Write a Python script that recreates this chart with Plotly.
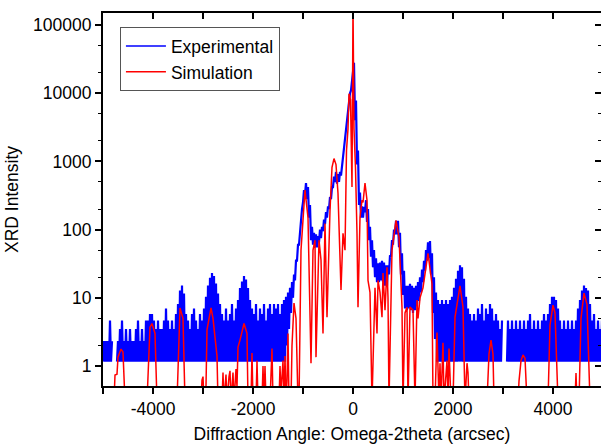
import plotly.graph_objects as go

# ---------------- data ----------------
# Experimental scan: sampled every 40 arcsec from -5000; each sample gives a low and a high count
exp_x = list(range(-5000, 5000, 40))
exp_hi = [
    2.32, 2.32, 2.32, 4.64, 2.32, None, None, 2.32, 3.48, 4.64,
    2.32, 3.48, 2.32, 3.48, 2.32, 2.32, 3.48, 4.64, 2.32, 3.48,
    2.32, 4.64, 4.64, 5.8, 5.8, 4.64, 3.48, 4.64, 3.48, 3.48,
    4.64, 6.96, 4.64, 3.48, 4.64, 3.48, 5.8, 8.12, 12.8, 15.1,
    11.6, 5.8, 4.64, 3.48, 5.8, 6.96, 4.64, 3.48, 5.8, 4.64,
    6.96, 10.4, 15.1, 19.7, 23.2, 20.9, 16.2, 11.6, 8.12, 5.8,
    4.64, 6.96, 4.64, 5.8, 8.12, 4.64, 6.96, 9.28, 13.9, 17.4,
    20.9, 18.6, 13.9, 9.28, 6.96, 5.8, 8.12, 4.64, 6.96, 5.8,
    8.12, 4.64, 6.96, 8.12, 5.8, 8.12, 6.96, 8.12, 5.8, 8.12,
    9.28, 10.4, 12, 14, 17, 22, 35, 60, 100, 200,
    380, 480, 420, 230, 110, 90, 85, 80, 100, 110,
    140, 180, 220, 300, 420, 600, 700, 650, 700, 850,
    1500, 2800, 5500, 10000, 15000, 28000, 7800, 1450, 350, 220,
    215, 270, 200, 110, 70, 50, 38, 32, 33, 35,
    33, 30, 30, 42, 70, 100, 135, 135, 90, 45,
    25, 15, 15, 16, 15, 14, 15, 17, 20, 26,
    35, 50, 65, 68, 45, 20, 12, 9.28, 8.12, 9.28,
    8.12, 9.28, 8.12, 9.28, 10.4, 14, 19, 25, 30, 28,
    19, 10.4, 6.96, 5.8, 4.64, 5.8, 4.64, 6.96, 5.8, 8.12,
    4.64, 6.96, 5.8, 8.12, 6.96, 4.64, 5.8, 4.64, 3.48, 4.64,
    None, None, 4.64, 3.48, 4.64, 3.48, 4.64, 3.48, 4.64, 3.48,
    4.64, 3.48, 4.64, 5.8, 3.48, 4.64, 3.48, 4.64, 3.48, 4.64,
    5.8, 4.64, 5.8, 8.12, 10.4, 10.4, 9.28, 6.96, 4.64, 3.48,
    4.64, 3.48, 4.64, 3.48, 4.64, 3.48, 4.64, 6.96, 9.28, 12.8,
    15.1, 13.9, 12.8, 8.12, 4.64, 5.8, 3.48, 4.64, 3.48, 4.64,
]
exp_lo = [
    1.16, 1.16, 1.16, 1.16, 1.16, None, None, 1.16, 1.16, 1.16,
    1.16, 1.16, 1.16, 1.16, 1.16, 1.16, 1.16, 1.16, 1.16, 1.16,
    1.16, 1.16, 1.16, 1.16, 1.16, 1.16, 1.16, 1.16, 1.16, 1.16,
    1.16, 1.16, 1.16, 1.16, 1.16, 1.16, 1.16, 1.16, 1.16, 1.16,
    1.16, 1.16, 1.16, 1.16, 1.16, 1.16, 1.16, 1.16, 1.16, 1.16,
    1.16, 1.16, 1.16, 1.16, 1.16, 1.16, 1.16, 1.16, 1.16, 1.16,
    1.16, 1.16, 1.16, 1.16, 1.16, 1.16, 1.16, 1.16, 1.16, 1.16,
    1.16, 1.16, 1.16, 1.16, 1.16, 1.16, 1.16, 1.16, 1.16, 1.16,
    1.16, 1.16, 1.16, 1.16, 1.16, 1.16, 1.16, 1.16, 1.16, 1.16,
    1.16, 1.16, 2, 3.5, 6, 10, 18, 35, 60, 130,
    250, 330, 280, 150, 70, 60, 55, 55, 65, 75,
    95, 120, 150, 200, 280, 420, 500, 470, 500, 620,
    1100, 2000, 4000, 7500, 11000, 17000, 4000, 900, 230, 150,
    150, 180, 130, 70, 40, 28, 20, 17, 17, 18,
    17, 15, 15, 22, 40, 60, 85, 85, 55, 22,
    11, 7, 6.6, 7, 6.6, 6, 6.6, 7.5, 9, 12,
    17, 25, 35, 38, 22, 6, 2.5, 1.16, 1.16, 1.16,
    1.16, 1.16, 1.16, 1.16, 1.16, 1.16, 1.16, 1.16, 1.16, 1.16,
    1.16, 1.16, 1.16, 1.16, 1.16, 1.16, 1.16, 1.16, 1.16, 1.16,
    1.16, 1.16, 1.16, 1.16, 1.16, 1.16, 1.16, 1.16, 1.16, 1.16,
    None, None, 1.16, 1.16, 1.16, 1.16, 1.16, 1.16, 1.16, 1.16,
    1.16, 1.16, 1.16, 1.16, 1.16, 1.16, 1.16, 1.16, 1.16, 1.16,
    1.16, 1.16, 1.16, 1.16, 1.16, 1.16, 1.16, 1.16, 1.16, 1.16,
    1.16, 1.16, 1.16, 1.16, 1.16, 1.16, 1.16, 1.16, 1.16, 1.16,
    1.16, 1.16, 1.16, 1.16, 1.16, 1.16, 1.16, 1.16, 1.16, 1.16,
]

# Simulation curve (values below the axis floor drawn at 0.3, i.e. off-scale)
sim_x = [
    -5000, -4780, -4760, -4720, -4700, -4640, -4600, -4560,
    -4120, -4060, -4020, -3960, -3920,
    -3520, -3460, -3400, -3360,
    -3040, -3020, -3000, -2980, -2940, -2920, -2840, -2800, -2720, -2700,
    -2620, -2600, -2580, -2540, -2520, -2480, -2460, -2440, -2400, -2380, -2340, -2320,
    -2300, -2260, -2180, -2120, -2100,
    -2040, -2020, -2000, -1940, -1920, -1900, -1820, -1800, -1780, -1760, -1740,
    -1660, -1620, -1600, -1480, -1460, -1440, -1400, -1380, -1360, -1340, -1320, -1300, -1280,
    -1240, -1220, -1180, -1140, -1100,
    -1080, -1040, -960, -900, -840, -800, -760, -740, -680, -640, -600, -560, -520,
    -460, -420, -380, -340, -300, -260, -240, -200, -160, -130, -100, -80, -50, -20,
    0, 20, 50, 80, 100, 140, 180, 200, 240, 280, 300, 340, 380, 440, 480, 500,
    540, 580, 600, 640, 680, 700, 720, 780, 860, 920, 980, 1000, 1040, 1080, 1100,
    1140, 1200, 1240, 1280, 1300, 1340, 1400, 1500, 1580, 1600, 1640, 1680, 1720,
    1740, 1760, 1800, 1820, 1880, 1900, 1920, 1960, 2000, 2040, 2140, 2200, 2240,
    2280, 2300, 2320,
    2680, 2720, 2760, 2800, 2820,
    3300, 3320, 3360, 3400, 3440, 3480,
    3900, 3940, 4000, 4040, 4100,
    4440, 4460, 4480, 4520, 4560, 4620, 4680, 4740, 4960,
]
sim_y = [
    0.3, 0.3, 0.74, 0.76, 1.35, 1.77, 1.6, 0.3,
    0.3, 3.7, 4.2, 3.0, 0.3,
    0.3, 7.1, 5.0, 0.3,
    0.3, 0.62, 0.7, 0.3, 0.5, 3.4, 7.1, 5.0, 1.4, 0.3,
    0.3, 0.8, 0.3, 0.75, 0.3, 0.7, 0.85, 0.3, 0.8, 0.3, 0.9, 0.5,
    1.9, 2.4, 4.2, 3.0, 0.3,
    0.3, 1.55, 0.3, 0.3, 1.2, 0.3, 0.3, 1.0, 0.3, 1.0, 0.3,
    0.3, 1.8, 0.3, 0.3, 1.0, 0.4, 1.2, 0.3, 1.4, 0.3, 0.6, 3.0, 0.3,
    0.3, 2.0, 8.4, 5.0, 0.3,
    0.3, 50, 380, 150, 1.1, 50, 70, 1.35, 70, 36, 3, 123, 5.2,
    190, 820, 1100, 900, 340, 20, 13, 88, 50, 1450, 3000, 9800, 8000, 420,
    200000, 3000, 800, 88, 7.3, 150, 270, 250, 480, 270, 18, 12, 0.3, 14, 3, 18,
    12, 5.2, 23, 6.6, 28, 10, 0.3, 50, 137, 77, 7.3, 0.3, 6, 7.3, 0.3,
    7.3, 6.6, 0.3, 9.3, 5, 10, 14, 45, 16, 0.3, 0.3, 3.1, 0.3,
    1.1, 0.3, 2.2, 0.3, 1.2, 0.3, 1.8, 0.3, 0.3, 5.2, 15, 7.3, 0.3,
    1.1, 0.8, 0.3,
    0.3, 1.5, 2.4, 1.5, 0.3,
    0.3, 0.6, 1.2, 1.45, 1.3, 0.3,
    0.3, 4.0, 7.8, 6.0, 0.3,
    0.3, 0.79, 0.3, 0.3, 5.0, 11.7, 8.0, 0.3, 0.3,
]

x_tickvals = [-5000, -4000, -3000, -2000, -1000, 0, 1000, 2000, 3000, 4000, 5000]
x_ticktext = ["", "-4000", "", "-2000", "", "0", "", "2000", "", "4000", ""]
y_tickvals = [1, 10, 100, 1000, 10000, 100000]
y_ticktext = ["1", "10", "100", "1000", "10000", "100000"]

# ---------------- build the noisy experimental trace ----------------
half = (exp_x[1] - exp_x[0]) / 2
ex, ey = [], []
for x0, lo, hi in zip(exp_x, exp_lo, exp_hi):
    if lo is None:
        ex += [None]
        ey += [None]
        continue
    ex += [x0, x0 + half]
    ey += [lo, hi]

FONT = "Liberation Sans, Arial, sans-serif"
FS = 17.5
BLUE = "#0000FF"
RED = "#FF0000"

fig = go.Figure()
fig.add_trace(go.Scatter(x=ex, y=ey, mode="lines", name="Experimental",
                         line=dict(color=BLUE, width=2.2), connectgaps=False,
                         showlegend=False, hoverinfo="skip"))
fig.add_trace(go.Scatter(x=sim_x, y=sim_y, mode="lines", name="Simulation",
                         line=dict(color=RED, width=1.5), showlegend=False,
                         hoverinfo="skip"))
# legend entries (thin line samples as in the reference)
fig.add_trace(go.Scatter(x=[None], y=[None], mode="lines", name="Experimental",
                         line=dict(color=BLUE, width=1.5)))
fig.add_trace(go.Scatter(x=[None], y=[None], mode="lines", name="Simulation",
                         line=dict(color=RED, width=1.5)))
# invisible trace to anchor the mirrored (top/right) axes
fig.add_trace(go.Scatter(x=[0], y=[1], xaxis="x2", yaxis="y2", mode="lines",
                         line=dict(width=0), showlegend=False, hoverinfo="skip"))

yr = [-0.293, 5.176]
xr = [-5000, 4960]

fig.update_layout(
    width=601, height=448,
    margin=dict(l=103, r=0, t=13, b=62, autoexpand=False),
    paper_bgcolor="white", plot_bgcolor="white",
    font=dict(family=FONT, color="black", size=FS),
    showlegend=True,
    legend=dict(x=0.034, y=0.962, xanchor="left", yanchor="top",
                bordercolor="#555555", borderwidth=1, bgcolor="white",
                font=dict(family=FONT, size=FS, color="black"),
                itemwidth=40, tracegroupgap=0),
    xaxis=dict(range=xr, tickvals=x_tickvals, ticktext=x_ticktext,
               ticks="outside", ticklen=6, tickwidth=1.5, tickcolor="black",
               showline=True, linewidth=2, linecolor="black",
               showgrid=False, zeroline=False, automargin=False,
               tickfont=dict(family=FONT, size=FS),
               title=dict(text="Diffraction Angle: Omega-2theta (arcsec)",
                          font=dict(family=FONT, size=FS), standoff=10)),
    xaxis2=dict(range=xr, overlaying="x", side="top", tickvals=x_tickvals,
                showticklabels=False, ticks="inside", ticklen=6, tickwidth=1.5,
                tickcolor="black", showline=True, linewidth=2, linecolor="black",
                showgrid=False, zeroline=False),
    yaxis=dict(type="log", range=yr, tickvals=y_tickvals, ticktext=y_ticktext,
               ticks="outside", ticklen=6, tickwidth=1.5, tickcolor="black",
               showline=True, linewidth=2, linecolor="black",
               showgrid=False, zeroline=False, automargin=False,
               minor=dict(ticks="outside", ticklen=3, tickwidth=1, tickcolor="black",
                          showgrid=False),
               tickfont=dict(family=FONT, size=FS),
               title=dict(text="XRD Intensity", font=dict(family=FONT, size=FS),
                          standoff=10)),
    yaxis2=dict(type="log", range=yr, overlaying="y", side="right",
                tickvals=y_tickvals, showticklabels=False,
                ticks="inside", ticklen=6, tickwidth=1.5, tickcolor="black",
                minor=dict(ticks="inside", ticklen=3, tickwidth=1, tickcolor="black",
                           showgrid=False),
                showline=True, linewidth=2, linecolor="black",
                showgrid=False, zeroline=False),
)

fig.write_html("out.html", config={"displayModeBar": False},
               post_script="document.body.style.margin='0';")
